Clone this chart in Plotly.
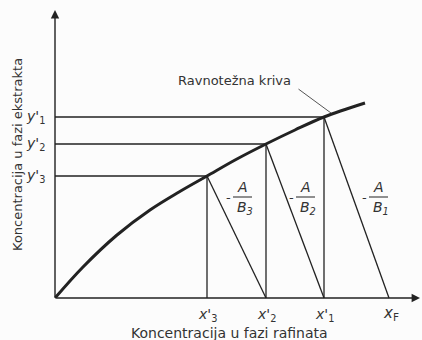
import plotly.graph_objects as go

# Ravnotežna kriva (očitano sa slike)
curve_x = [0, 28, 62, 95, 124, 152, 181, 211, 240, 269, 310]
curve_y = [0, 31, 63, 88, 106, 122, 138.5, 154, 168, 181, 195]

# Stupnjevi: x1', x2', x3' i pripadni y1', y2', y3'
stage_x = [269, 211, 152]
stage_y = [181, 154, 122]
x_feed = 334

x_labels = ["<i>x</i>'<sub>1</sub>", "<i>x</i>'<sub>2</sub>", "<i>x</i>'<sub>3</sub>"]
y_labels = ["<i>y</i>'<sub>1</sub>", "<i>y</i>'<sub>2</sub>", "<i>y</i>'<sub>3</sub>"]
feed_label = "<i>x</i><sub>F</sub>"
slope_labels = ["B<sub>1</sub>", "B<sub>2</sub>", "B<sub>3</sub>"]

LINE = "#222222"
TEXT = "#333333"
FONT = "DejaVu Sans"

fig = go.Figure()

# ravnotežna kriva
fig.add_trace(go.Scatter(
    x=curve_x, y=curve_y, mode="lines",
    line=dict(color=LINE, width=3, shape="spline", smoothing=1.0),
    hoverinfo="skip",
))

# horizontalne i vertikalne linije stupnjeva, te radne linije
prev_x = [x_feed] + stage_x[:-1]
for sx, sy, px in zip(stage_x, stage_y, prev_x):
    fig.add_trace(go.Scatter(x=[0, sx], y=[sy, sy], mode="lines",
                             line=dict(color=LINE, width=1.3), hoverinfo="skip"))
    fig.add_trace(go.Scatter(x=[sx, sx], y=[sy, 0], mode="lines",
                             line=dict(color=LINE, width=1.3), hoverinfo="skip"))
    fig.add_trace(go.Scatter(x=[sx, px], y=[sy, 0], mode="lines",
                             line=dict(color=LINE, width=1.3), hoverinfo="skip"))

annotations = []

# osi sa strelicama
annotations.append(dict(x=0, y=288, ax=0, ay=0, xref="x", yref="y", axref="x", ayref="y",
                        showarrow=True, arrowhead=2, arrowsize=1.2, arrowwidth=1.4,
                        arrowcolor=LINE, text=""))
annotations.append(dict(x=365, y=0, ax=0, ay=0, xref="x", yref="y", axref="x", ayref="y",
                        showarrow=True, arrowhead=2, arrowsize=1.2, arrowwidth=1.4,
                        arrowcolor=LINE, text=""))

# oznake na osima
for sx, lab in zip(stage_x, x_labels):
    annotations.append(dict(x=sx, y=-17, text=lab, showarrow=False,
                            font=dict(size=14, color=TEXT, family=FONT)))
annotations.append(dict(x=x_feed + 2, y=-15, text=feed_label, showarrow=False,
                        font=dict(size=15, color=TEXT, family=FONT)))
for sy, lab in zip(stage_y, y_labels):
    annotations.append(dict(x=-20, y=sy, text=lab, showarrow=False,
                            font=dict(size=14, color=TEXT, family=FONT)))

# nagibi radnih linija: -A/B
shapes = []
frac_x = [323, 250, 187]
for fx, lab in zip(frac_x, slope_labels):
    shapes.append(dict(type="line", x0=fx - 9, x1=fx + 10, y0=101, y1=101,
                       xref="x", yref="y", line=dict(color=LINE, width=1)))
    annotations.append(dict(x=fx - 14, y=101, text="-", showarrow=False,
                            font=dict(size=13, color=TEXT, family=FONT)))
    annotations.append(dict(x=fx, y=111, text="<i>A</i>", showarrow=False,
                            font=dict(size=14, color=TEXT, family=FONT)))
    annotations.append(dict(x=fx + 3, y=90, text="<i>" + lab + "</i>", showarrow=False,
                            font=dict(size=14, color=TEXT, family=FONT)))

# Ravnotežna kriva - oznaka i pokazna linija
annotations.append(dict(x=276, y=185, ax=242, ay=210, xref="x", yref="y",
                        axref="x", ayref="y", showarrow=True, arrowhead=0,
                        arrowwidth=1, arrowcolor="#555555", text=""))
annotations.append(dict(x=179, y=218, text="Ravnotežna kriva", showarrow=False,
                        font=dict(size=13, color=TEXT, family=FONT)))

# naslovi osi
annotations.append(dict(x=174, y=-35, text="Koncentracija u fazi rafinata", showarrow=False,
                        font=dict(size=14, color=TEXT, family=FONT)))
annotations.append(dict(x=-38, y=143, text="Koncentracija u fazi ekstrakta", showarrow=False,
                        textangle=-90, font=dict(size=13, color=TEXT, family=FONT)))

fig.update_layout(
    width=422, height=340,
    margin=dict(l=0, r=0, t=0, b=0),
    paper_bgcolor="#fcfcfc", plot_bgcolor="#fcfcfc",
    showlegend=False,
    xaxis=dict(range=[-55, 367], visible=False, fixedrange=True),
    yaxis=dict(range=[-42, 298], visible=False, fixedrange=True),
    annotations=annotations,
    shapes=shapes,
)

fig.write_html("out.html", config={"displayModeBar": False},
               post_script="document.body.style.margin = '0px';")
